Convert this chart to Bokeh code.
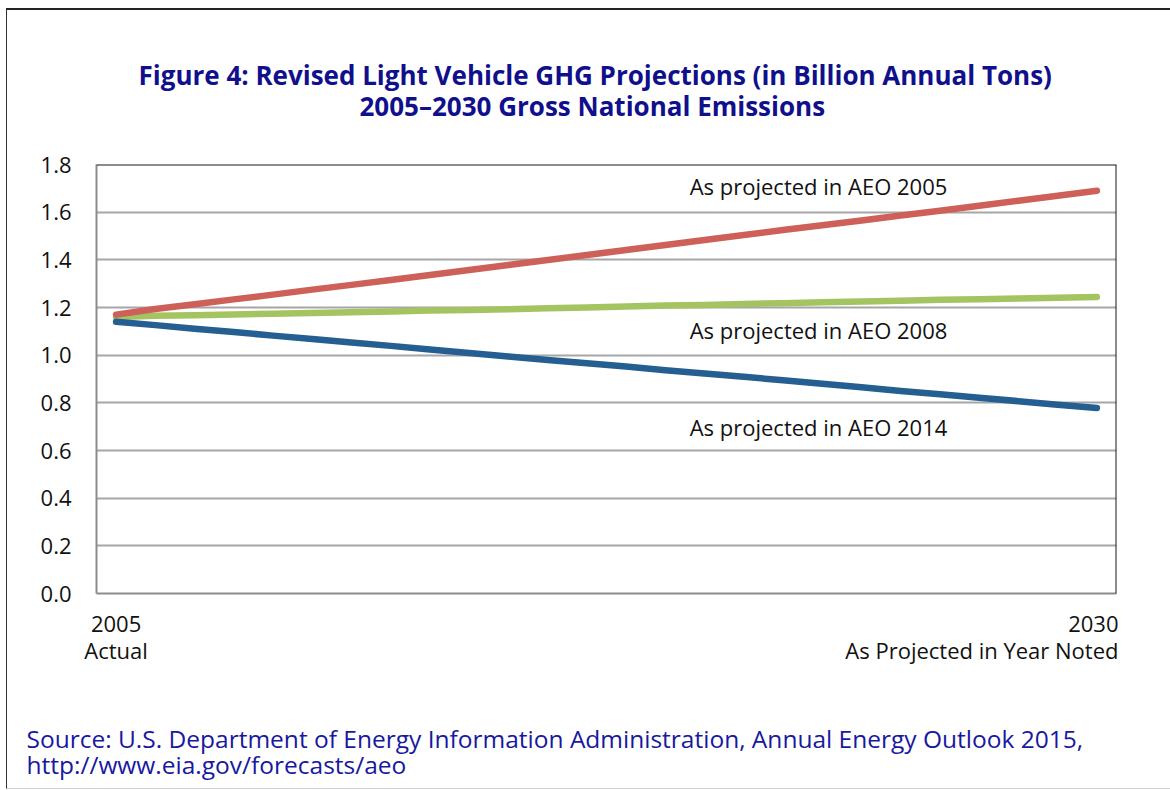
from bokeh.plotting import figure
from bokeh.layouts import column
from bokeh.models import Title, Range1d, FixedTicker, Span, LinearAxis
from bokeh.core.properties import value
from bokeh.embed import file_html
from bokeh.resources import INLINE

# ---- data (billion annual tons) ----
years = list(range(2005, 2031))
aeo2005 = [1.170, 1.194, 1.214, 1.234, 1.254, 1.275, 1.295, 1.315, 1.336, 1.357,
           1.378, 1.399, 1.420, 1.441, 1.462, 1.483, 1.504, 1.525, 1.545, 1.565,
           1.586, 1.606, 1.627, 1.648, 1.669, 1.690]
aeo2008 = [1.160, 1.165, 1.168, 1.171, 1.174, 1.177, 1.180, 1.183, 1.187, 1.190,
           1.193, 1.197, 1.200, 1.204, 1.208, 1.211, 1.215, 1.218, 1.222, 1.225,
           1.228, 1.232, 1.235, 1.238, 1.241, 1.244]
aeo2014 = [1.140, 1.126, 1.111, 1.097, 1.082, 1.068, 1.053, 1.039, 1.024, 1.009,
           0.994, 0.980, 0.966, 0.952, 0.937, 0.923, 0.909, 0.895, 0.880, 0.865,
           0.850, 0.836, 0.821, 0.807, 0.792, 0.778]
series_names = ["As projected in AEO 2005", "As projected in AEO 2008", "As projected in AEO 2014"]
y_ticks = [0.0, 0.2, 0.4, 0.6, 0.8, 1.0, 1.2, 1.4, 1.6, 1.8]
y_tick_labels = ["0.0", "0.2", "0.4", "0.6", "0.8", "1.0", "1.2", "1.4", "1.6", "1.8"]
x_tick_labels = ["2005", "2030"]
x_sub_labels = ["Actual", "As Projected in Year Noted"]
title_lines = ["Figure 4: Revised Light Vehicle GHG Projections (in Billion Annual Tons)",
               "2005\u20132030 Gross National Emissions"]
source_lines = ["Source: U.S. Department of Energy Information Administration, Annual Energy Outlook 2015,",
                "http://www.eia.gov/forecasts/aeo"]

# series label anchor positions (data coords)
label_x = 2019.62
label_y = [1.708, 1.104, 0.697]

FONT = "Open Sans"
INK = "#111111"
NAVY = "#10108c"

p = figure(width=1111, height=778, output_backend="svg", toolbar_location=None,
           x_range=Range1d(2004.5, 2030.5), y_range=Range1d(0, 1.8),
           min_border_left=89, min_border_right=2, min_border_top=154, min_border_bottom=195)
p.background_fill_color = "white"
p.border_fill_color = "white"
p.outline_line_color = None

end_ticks = [years[0], years[-1]]

# x axis: first row of end labels
p.xaxis.ticker = FixedTicker(ticks=end_ticks)
p.xaxis.major_label_overrides = {t: l for t, l in zip(end_ticks, x_tick_labels)}
p.xaxis.major_label_text_font = FONT
p.xaxis.major_label_text_font_size = "22px"
p.xaxis.major_label_text_color = INK
p.xaxis.major_label_standoff = 22
p.xaxis.axis_line_color = "#8c8c8c"
p.xaxis.axis_line_width = 2
p.xaxis.major_tick_line_color = None
p.xaxis.major_tick_out = 0
p.xaxis.major_tick_in = 0
p.xaxis.minor_tick_line_color = None
p.xgrid.visible = False

# second row of end labels
x2 = LinearAxis(ticker=FixedTicker(ticks=end_ticks),
                major_label_overrides={t: l for t, l in zip(end_ticks, x_sub_labels)},
                axis_line_color=None, major_tick_line_color=None, minor_tick_line_color=None,
                major_tick_out=0, major_tick_in=0, major_label_standoff=0,
                major_label_text_font=FONT, major_label_text_font_size="22px",
                major_label_text_color=INK)
p.add_layout(x2, "below")

p.yaxis.ticker = FixedTicker(ticks=y_ticks)
p.yaxis.major_label_overrides = {t: l for t, l in zip(y_ticks, y_tick_labels)}
p.yaxis.axis_line_color = "#8c8c8c"
p.yaxis.axis_line_width = 2
p.yaxis.major_tick_line_color = None
p.yaxis.minor_tick_line_color = None
p.yaxis.major_label_standoff = 19
p.yaxis.major_label_text_font = FONT
p.yaxis.major_label_text_font_size = "22px"
p.yaxis.major_label_text_color = INK
p.ygrid.ticker = FixedTicker(ticks=y_ticks)
p.ygrid.grid_line_color = "#a6a6a6"
p.ygrid.grid_line_width = 2

p.add_layout(Span(location=1.8, dimension="width", line_color="#1a1a1a", line_width=2))
p.add_layout(Span(location=2030.5, dimension="height", line_color="#1a1a1a", line_width=2))

# lines
p.line(years, aeo2008, line_color="#a3c461", line_width=6.5, line_cap="round", line_join="round")
p.line(years, aeo2014, line_color="#255e90", line_width=6.5, line_cap="round", line_join="round")
p.line(years, aeo2005, line_color="#ce605a", line_width=6.5, line_cap="round", line_join="round")

p.text(x=[label_x] * 3, y=label_y, text=series_names, text_font=value(FONT),
       text_font_size="22px", text_color=INK, text_baseline="middle", text_align="left")

# title (above: first added sits nearest the plot)
p.add_layout(Title(text="\u00a0", text_font_size="10px", standoff=31), "above")
p.add_layout(Title(text=title_lines[1], align="left", offset=263, standoff=-7,
                   text_font=FONT, text_font_size="26px", text_font_style="bold",
                   text_color=NAVY), "above")
p.add_layout(Title(text=title_lines[0], align="left", offset=42, standoff=-7,
                   text_font=FONT, text_font_size="26px", text_font_style="bold",
                   text_color=NAVY), "above")

# source (below the axes)
p.add_layout(Title(text="\u00a0", text_font_size="10px", standoff=44), "below")
for line in source_lines:
    p.add_layout(Title(text=line, align="left", offset=-70, standoff=-9,
                       text_font=FONT, text_font_size="24.5px", text_font_style="normal",
                       text_color="#1818a0"), "below")

page = column(p, width=1164,
              styles={"border-left": "1px solid #333333", "border-top": "2px solid #222222",
                      "border-bottom": "1px solid #d0d0d0", "margin-left": "6px",
                      "margin-top": "8px", "background-color": "white"})

open("out.html", "w").write(file_html(page, INLINE))
